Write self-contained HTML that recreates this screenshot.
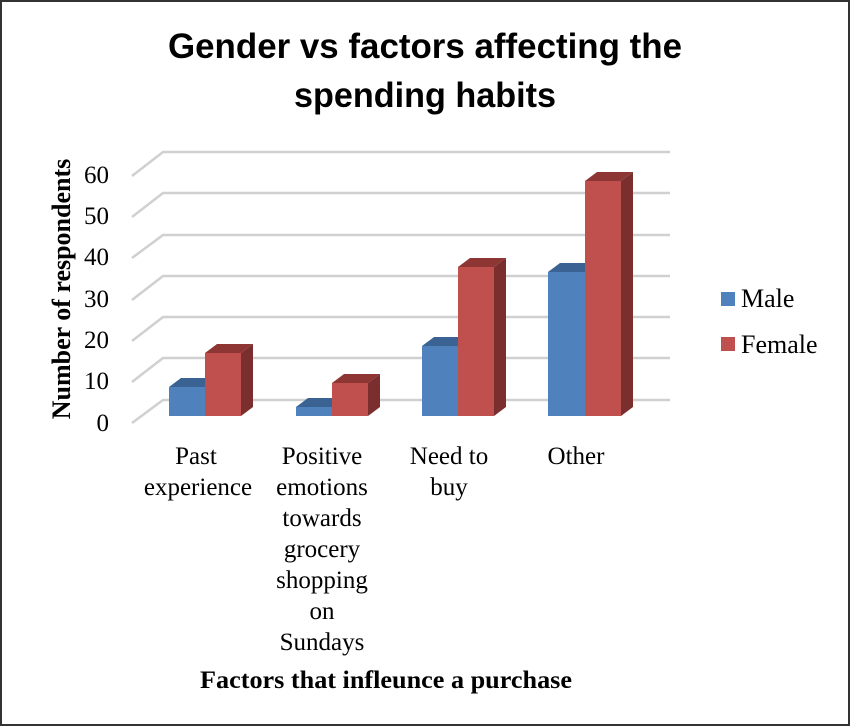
<!DOCTYPE html>
<html><head><meta charset="utf-8"><style>
html,body{margin:0;padding:0;background:#fff}
svg{display:block}
</style></head><body>
<svg width="850" height="726" viewBox="0 0 850 726" xmlns="http://www.w3.org/2000/svg">
<rect x="1" y="1" width="848" height="724" fill="#fff" stroke="#333" stroke-width="2"/>
<g font-family="'Liberation Sans',sans-serif" font-weight="bold" font-size="35" text-anchor="middle" fill="#000">
<text x="425" y="58" textLength="514" lengthAdjust="spacingAndGlyphs">Gender vs factors affecting the</text>
<text x="425" y="107" textLength="262" lengthAdjust="spacingAndGlyphs">spending habits</text>
</g>
<g stroke="#d0d0d0" stroke-width="2.5" fill="none">
<polyline points="132,176 163,152 670,152"/>
<polyline points="132,217 163,193 670,193"/>
<polyline points="132,258 163,235 670,235"/>
<polyline points="132,300 163,276 670,276"/>
<polyline points="132,341 163,317 670,317"/>
<polyline points="132,382 163,358 670,358"/>
<polyline points="132,423 163,400 670,400"/>
</g>
<g font-family="'Liberation Serif',serif" font-size="25" text-anchor="end" fill="#000">
<text x="109" y="183">60</text>
<text x="109" y="224">50</text>
<text x="109" y="265">40</text>
<text x="109" y="307">30</text>
<text x="109" y="348">20</text>
<text x="109" y="389">10</text>
<text x="109" y="431">0</text>
</g>
<text transform="translate(70,289) rotate(-90)" font-family="'Liberation Serif',serif" font-weight="bold" font-size="26" text-anchor="middle">Number of respondents</text>
<g>
<polygon points="169,387 181,378 217,378 205,387" fill="#3a6394"/><rect x="169" y="387" width="36" height="29" fill="#4f81bd"/>
<polygon points="205,353 217,344 253,344 241,353" fill="#8e3634"/><polygon points="241,353 253,344 253,407 241,416" fill="#7a2e2d"/><rect x="205" y="353" width="36" height="63" fill="#c0504d"/>
<polygon points="296,407 308,398 344,398 332,407" fill="#3a6394"/><rect x="296" y="407" width="36" height="9" fill="#4f81bd"/>
<polygon points="332,383 344,374 380,374 368,383" fill="#8e3634"/><polygon points="368,383 380,374 380,407 368,416" fill="#7a2e2d"/><rect x="332" y="383" width="36" height="33" fill="#c0504d"/>
<polygon points="422,346 434,337 470,337 458,346" fill="#3a6394"/><rect x="422" y="346" width="36" height="70" fill="#4f81bd"/>
<polygon points="458,267 470,258 506,258 494,267" fill="#8e3634"/><polygon points="494,267 506,258 506,407 494,416" fill="#7a2e2d"/><rect x="458" y="267" width="36" height="149" fill="#c0504d"/>
<polygon points="548,272 560,263 597,263 585,272" fill="#3a6394"/><rect x="548" y="272" width="37" height="144" fill="#4f81bd"/>
<polygon points="585,181 597,172 633,172 621,181" fill="#8e3634"/><polygon points="621,181 633,172 633,407 621,416" fill="#7a2e2d"/><rect x="585" y="181" width="36" height="235" fill="#c0504d"/>
</g>
<g font-family="'Liberation Serif',serif" font-size="25" text-anchor="middle" fill="#000">
<text x="196" y="464">Past</text>
<text x="198" y="495">experience</text>
<text x="322" y="464">Positive</text>
<text x="322" y="495">emotions</text>
<text x="322" y="526">towards</text>
<text x="322" y="557">grocery</text>
<text x="322" y="588">shopping</text>
<text x="322" y="619">on</text>
<text x="322" y="650">Sundays</text>
<text x="449" y="464">Need to</text>
<text x="449" y="495">buy</text>
<text x="576" y="464">Other</text>
</g>
<text x="386" y="688" font-family="'Liberation Serif',serif" font-weight="bold" font-size="25" text-anchor="middle" textLength="372" lengthAdjust="spacingAndGlyphs">Factors that infleunce a purchase</text>
<rect x="721" y="292" width="14" height="14" fill="#4f81bd"/>
<rect x="721" y="337" width="14" height="14" fill="#c0504d"/>
<g font-family="'Liberation Serif',serif" font-size="26" fill="#000">
<text x="741" y="307">Male</text>
<text x="741" y="353">Female</text>
</g>
</svg>
</body></html>
